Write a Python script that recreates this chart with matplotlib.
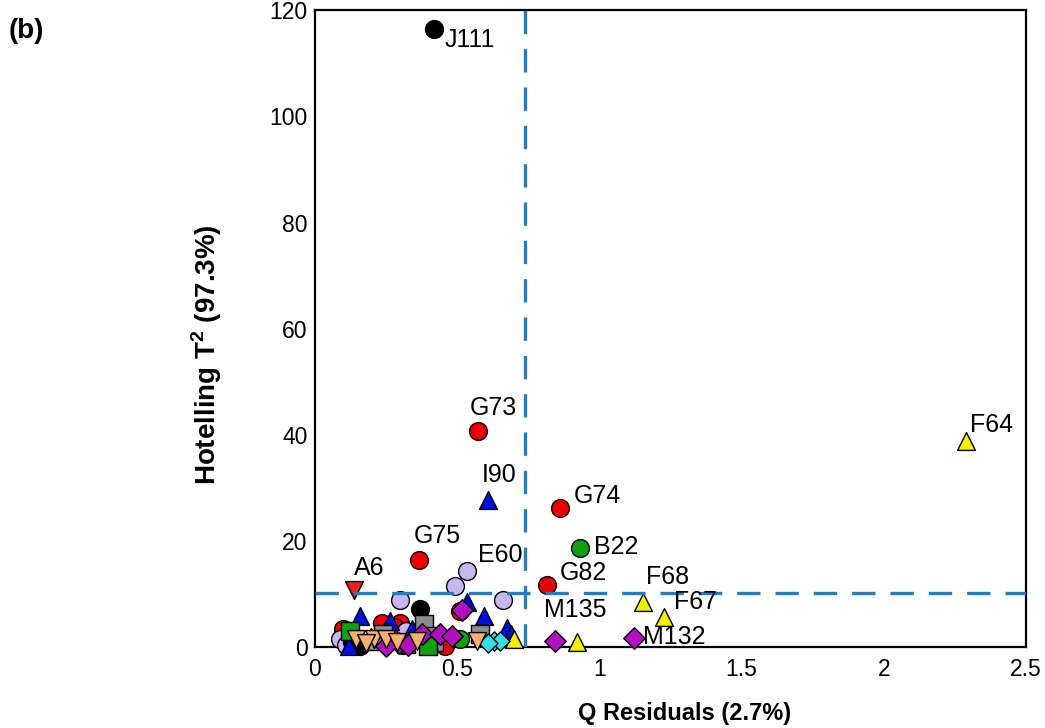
import matplotlib
matplotlib.use("Agg")
import matplotlib.pyplot as plt

plt.rcParams["font.family"] = ["Liberation Sans", "DejaVu Sans"]

# scores: (Q residual, Hotelling T2) per sample group
black_q = [0.42, 0.37, 0.13, 0.16]
black_t = [116.4, 7.2, 1.0, 0.3]
red_q = [0.574, 0.863, 0.366, 0.817, 0.51, 0.10, 0.236, 0.30, 0.46, 0.12, 0.28]
red_t = [40.8, 26.3, 16.4, 11.8, 6.8, 3.5, 4.6, 4.6, 0.3, 2.5, 3.8]
green_q = [0.933, 0.51, 0.31]
green_t = [18.6, 1.5, 0.5]
lav_q = [0.535, 0.493, 0.30, 0.662, 0.09, 0.32, 0.11]
lav_t = [14.3, 11.5, 8.8, 8.8, 1.5, 3.0, 0.5]
blue_q = [0.61, 0.535, 0.595, 0.16, 0.676, 0.264, 0.342, 0.69, 0.12, 0.20]
blue_t = [27.8, 8.5, 5.8, 5.8, 3.6, 4.9, 3.4, 2.5, 0.3, 2.0]
yel_q = [2.29, 1.155, 1.229, 0.923, 0.70]
yel_t = [38.9, 8.6, 5.6, 0.9, 1.5]
gray_q = [0.384, 0.58, 0.394, 0.24, 0.22, 0.42]
gray_t = [4.3, 2.4, 2.1, 2.4, 1.2, 1.0]
gsq_q = [0.125, 0.40, 0.32]
gsq_t = [3.0, 0.2, 0.6]
mag_q = [0.845, 1.123, 0.518, 0.377, 0.44, 0.482, 0.295, 0.33, 0.25]
mag_t = [1.1, 1.7, 7.1, 2.4, 2.4, 2.1, 0.8, 0.5, 0.3]
cyan_q = [0.63, 0.65, 0.61]
cyan_t = [1.1, 1.2, 0.8]
orange_q = [0.144, 0.21, 0.25, 0.57, 0.18, 0.29, 0.36]
orange_t = [1.5, 1.5, 1.5, 1.1, 0.8, 0.9, 1.2]
a6_q = [0.137]
a6_t = [10.7]

q_limit = 0.74
t_limit = 10.3

# labelled samples: name, q, t, text offset in pixels
labels = [
    ("J111", 0.42, 116.4, 10, -23),
    ("G73", 0.574, 40.8, -8, 11),
    ("I90", 0.61, 27.8, -6, 13),
    ("G74", 0.863, 26.3, 14, 0),
    ("B22", 0.933, 18.6, 14, -11),
    ("G75", 0.366, 16.4, -5, 12),
    ("E60", 0.535, 14.3, 11, 4),
    ("G82", 0.817, 11.8, 13, 0),
    ("A6", 0.137, 10.7, 0, 10),
    ("F64", 2.29, 38.9, 4, 4),
    ("F68", 1.155, 8.6, 3, 13),
    ("F67", 1.229, 5.6, 10, 3),
    ("M135", 0.845, 1.1, -11, 19),
    ("M132", 1.123, 1.7, 9, -11),
]

fig = plt.figure(figsize=(10.45, 7.28), dpi=100)
ax = fig.add_axes([0.301, 0.111, 0.681, 0.875])

ms = 165
kw = dict(s=ms, edgecolors="black", linewidths=1.0, clip_on=False, zorder=3)
ax.scatter(red_q, red_t, marker="o", c="#ee0000", **kw)
ax.scatter(lav_q, lav_t, marker="o", c="#c9b6ee", **kw)
ax.scatter(green_q, green_t, marker="o", c="#10a010", **kw)
ax.scatter(black_q, black_t, marker="o", c="black", **kw)
ax.scatter(blue_q, blue_t, marker="^", c="#0010e0", **kw)
ax.scatter(gray_q, gray_t, marker="s", c="#8c8c8c", **kw)
ax.scatter(gsq_q, gsq_t, marker="s", c="#10a010", **kw)
ax.scatter(yel_q, yel_t, marker="^", c="#f4f000", **kw)
ax.scatter(cyan_q, cyan_t, marker="D", s=95, c="#30e0e8", edgecolors="black",
           linewidths=1.0, clip_on=False, zorder=3)
ax.scatter(mag_q, mag_t, marker="D", s=120, c="#b010c0", edgecolors="black",
           linewidths=1.0, clip_on=False, zorder=3)
ax.scatter(orange_q, orange_t, marker="v", c="#f6b070", **kw)
ax.scatter(a6_q, a6_t, marker="v", c="#ee2020", **kw)

dash = dict(color="#1f7fc4", lw=2.4, dashes=(7, 4.5), zorder=4)
ax.axvline(q_limit, **dash)
ax.axhline(t_limit, **dash)

for name, q, t, dx, dy in labels:
    ax.annotate(name, (q, t), xytext=(dx, dy), textcoords="offset pixels",
                fontsize=18, ha="left", va="bottom", zorder=5)

ax.set_xlim(0, 2.5)
ax.set_ylim(0, 120)
ax.set_xticks([0, 0.5, 1, 1.5, 2, 2.5])
ax.set_xticklabels(["0", "0.5", "1", "1.5", "2", "2.5"])
ax.set_yticks(range(0, 121, 20))
ax.tick_params(length=0, labelsize=16.5)
ax.tick_params(axis="x", pad=8)
ax.tick_params(axis="y", pad=5)
for sp in ax.spines.values():
    sp.set_linewidth(1.6)

ax.set_xlabel("Q Residuals (2.7%)", fontsize=17, fontweight="bold")
ax.xaxis.set_label_coords(0.52, -0.086)
ax.set_ylabel("Hotelling T$^\\mathregular{2}$ (97.3%)", fontsize=20,
              fontweight="bold")
ax.yaxis.set_label_coords(-0.127, 0.46)

fig.text(0.008, 0.948, "(b)", fontsize=20, fontweight="bold")

fig.savefig("out.png", dpi=100)
